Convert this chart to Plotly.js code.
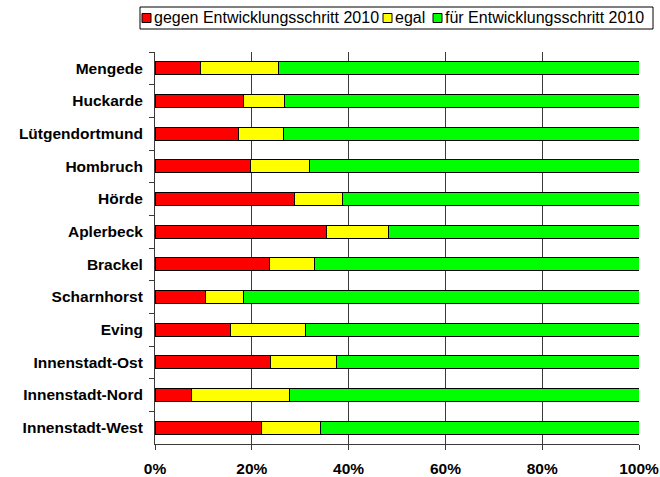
<!DOCTYPE html>
<html>
<head>
<meta charset="utf-8">
<script src="https://cdn.plot.ly/plotly-3.0.1.min.js"></script>
<style>
  html, body { margin: 0; padding: 0; background: #fff; }
  #chart { width: 660px; height: 477px; }
</style>
</head>
<body>
<div id="chart"></div>
<script>
// Stadtbezirke, top to bottom
const districts = [
    'Mengede', 'Huckarde', 'Lütgendortmund', 'Hombruch', 'Hörde', 'Aplerbeck',
    'Brackel', 'Scharnhorst', 'Eving', 'Innenstadt-Ost', 'Innenstadt-Nord', 'Innenstadt-West'
];

// shares in percent
const gegen = [9.5, 18.3, 17.2, 19.8, 28.8, 35.4, 23.6, 10.5, 15.5, 23.9, 7.6, 22.1];
const egal  = [16.0, 8.4, 9.3, 12.2, 10.0, 12.8, 9.3, 7.8, 15.5, 13.7, 20.1, 12.1];
const fuer  = [74.5, 73.3, 73.5, 68.0, 61.2, 51.8, 67.1, 81.7, 69.0, 62.4, 72.3, 65.8];

const seriesNames = ['gegen Entwicklungsschritt 2010', 'egal', 'für Entwicklungsschritt 2010'];
const seriesColors = ['#ff0000', '#ffff00', '#00ff00'];

const FONT = 'Arial, "Liberation Sans", sans-serif';

// plot area in pixels (660x477 page)
const M = { l: 155, r: 21, t: 52, b: 33 };
const PW = 660 - M.l - M.r;
const PH = 477 - M.t - M.b;
const px = x => (x - M.l) / PW;
const py = y => (477 - M.b - y) / PH;

function barTrace(i, values) {
    return {
        type: 'bar',
        orientation: 'h',
        name: seriesNames[i],
        y: districts,
        x: values,
        width: 0.39,
        marker: { color: seriesColors[i], line: { color: '#000', width: 1 } },
        hoverinfo: 'x+y+name'
    };
}

const data = [barTrace(0, gegen), barTrace(1, egal), barTrace(2, fuer)];

// Excel-style legend box: small squares right next to the text
const swatchX = [142, 383, 433];
const shapes = [{
    type: 'rect', xref: 'paper', yref: 'paper',
    x0: px(140), x1: px(653), y0: py(7), y1: py(29),
    line: { color: '#000', width: 1 }, fillcolor: '#fff'
}];
const annotations = [];
seriesNames.forEach((name, i) => {
    shapes.push({
        type: 'rect', xref: 'paper', yref: 'paper',
        x0: px(swatchX[i]), x1: px(swatchX[i] + 9), y0: py(13.5), y1: py(22.5),
        line: { color: '#000', width: 1 }, fillcolor: seriesColors[i]
    });
    annotations.push({
        xref: 'paper', yref: 'paper',
        x: px(swatchX[i] + 10), y: py(18),
        xanchor: 'left', yanchor: 'middle',
        text: name, showarrow: false,
        font: { family: FONT, size: 16, color: '#000' }
    });
});

const layout = {
    barmode: 'stack',
    width: 660,
    height: 477,
    margin: M,
    paper_bgcolor: '#fff',
    plot_bgcolor: '#fff',
    font: { family: FONT, size: 16, color: '#000' },
    showlegend: false,
    shapes: shapes,
    annotations: annotations,
    xaxis: {
        range: [0, 100],
        tickvals: [0, 20, 40, 60, 80, 100],
        ticktext: ['0%', '20%', '40%', '60%', '80%', '100%'],
        showgrid: true,
        gridcolor: '#3a3a3a',
        gridwidth: 1,
        showline: true,
        linecolor: '#3a3a3a',
        ticks: 'outside',
        ticklen: 5,
        tickcolor: '#3a3a3a',
        zeroline: false,
        ticklabelstandoff: 5,
        tickfont: { family: FONT, size: 15.5, weight: 'bold' },
        fixedrange: true
    },
    yaxis: {
        autorange: 'reversed',
        showline: true,
        linecolor: '#3a3a3a',
        ticks: 'outside',
        tickson: 'boundaries',
        ticklen: 5,
        tickcolor: '#3a3a3a',
        showgrid: false,
        ticklabelstandoff: 8,
        tickfont: { family: FONT, size: 15.5, weight: 'bold' },
        fixedrange: true
    }
};

Plotly.newPlot('chart', data, layout, { displayModeBar: false, staticPlot: true });
</script>
</body>
</html>
